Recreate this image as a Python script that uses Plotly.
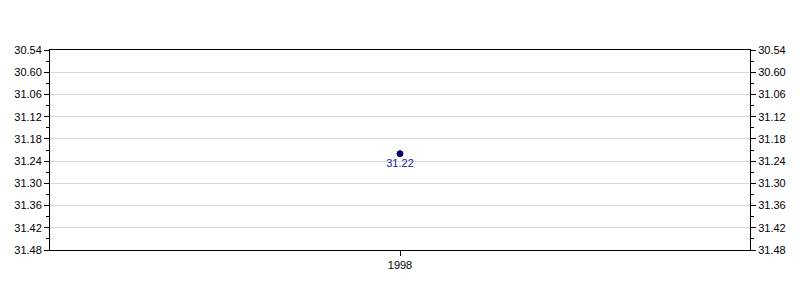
import plotly.graph_objects as go

years = ["1998"]
times = ["31.22"]          # mm.ss
tick_labels = ["30.54", "30.60", "31.06", "31.12", "31.18", "31.24",
               "31.30", "31.36", "31.42", "31.48"]

def to_sec(s):
    m, ss = s.split(".")
    return int(m) * 60 + int(ss)

tick_vals = [to_sec(t) for t in tick_labels]
tick_vals[1] = 30 * 60 + 60
values = [to_sec(t) for t in times]
minor_vals = [v + 3 for v in tick_vals[:-1]]

fig = go.Figure()
fig.add_trace(go.Scatter(
    x=years, y=values, mode="markers+text", text=times,
    textposition="bottom center",
    textfont=dict(family="Liberation Sans, Arial", size=11, color="#1a1aaa"),
    marker=dict(size=6, color="#000080", line=dict(color="#000040", width=1)),
    showlegend=False, hoverinfo="skip"))
fig.add_trace(go.Scatter(x=years, y=values, yaxis="y2", mode="markers",
                         marker=dict(opacity=0), showlegend=False, hoverinfo="skip"))

yrange = [tick_vals[-1], tick_vals[0]]
yax = dict(range=yrange, tickvals=tick_vals, ticktext=tick_labels,
           ticks="outside", ticklen=5, tickcolor="black",
           showline=True, linecolor="black", linewidth=1,
           showgrid=True, gridcolor="#d9d9d9", gridwidth=1,
           zeroline=False,
           minor=dict(tickvals=minor_vals, ticks="outside", ticklen=3,
                      tickcolor="black", showgrid=False),
           tickfont=dict(family="Liberation Sans, Arial", size=11, color="black"))
fig.update_layout(
    width=800, height=300,
    margin=dict(l=50, r=50, t=50, b=50),
    paper_bgcolor="white", plot_bgcolor="white",
    xaxis=dict(type="category", showline=True, linecolor="black", linewidth=1,
               mirror=True, ticks="outside", ticklen=5, tickcolor="black",
               showgrid=False, zeroline=False,
               tickfont=dict(family="Liberation Sans, Arial", size=11, color="black")),
    yaxis=yax,
    yaxis2=dict(yax, overlaying="y", side="right", showgrid=False),
)
fig.write_html("out.html")
